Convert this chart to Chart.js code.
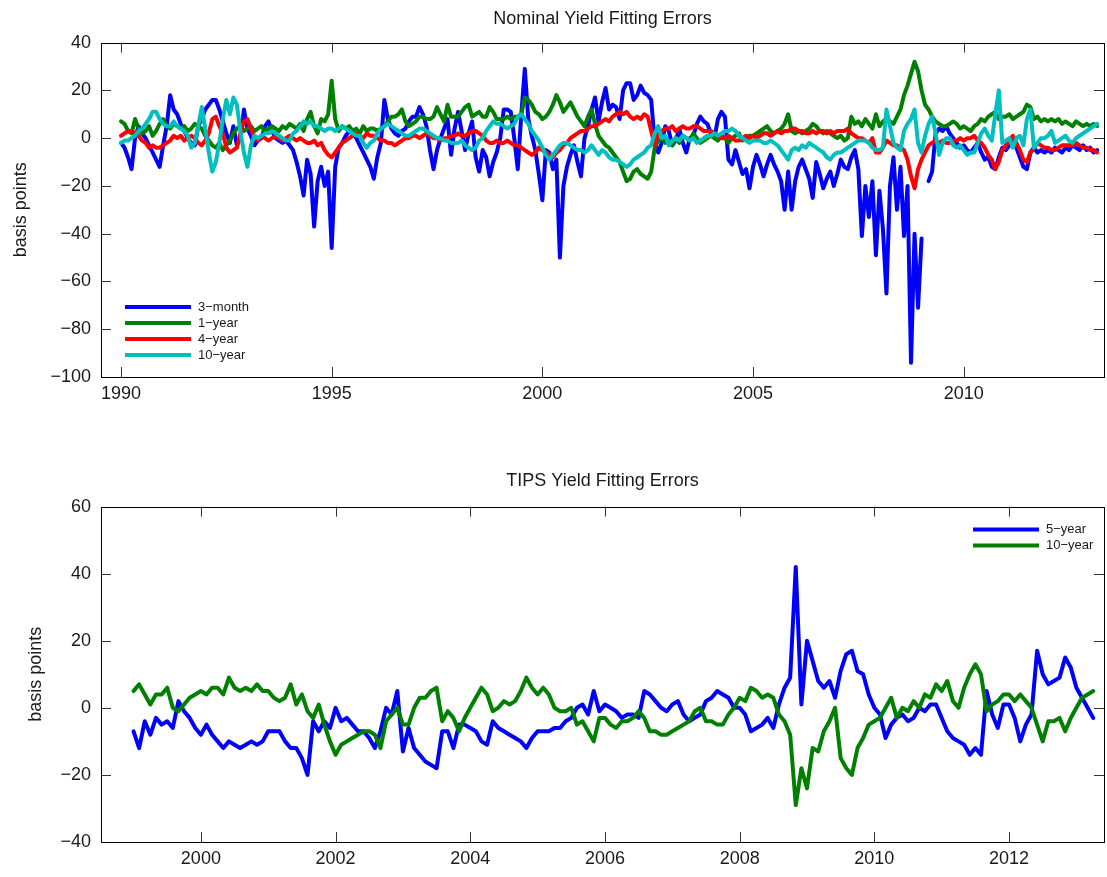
<!DOCTYPE html>
<html>
<head>
<meta charset="utf-8">
<title>Yield Fitting Errors</title>
<script src="https://cdn.jsdelivr.net/npm/chart.js@4.4.1/dist/chart.umd.min.js"></script>
<style>
  body { margin: 0; background: #fff; }
  #wrap { position: relative; width: 1107px; height: 877px; }
  #nominal { position: absolute; left: 0; top: 0; }
  #tips { position: absolute; left: 0; top: 440px; }
</style>
</head>
<body>
<div id="wrap">
  <canvas id="nominal" width="1107" height="430"></canvas>
  <canvas id="tips" width="1107" height="437"></canvas>
</div>
<script>
// monthly observations, first one at the start year
nominal_start = 1990
tips_start = 1999

nominal_year_ticks = [1990, 1995, 2000, 2005, 2010]
nominal_bp_ticks = [-100, -80, -60, -40, -20, 0, 20, 40]
tips_year_ticks = [2000, 2002, 2004, 2006, 2008, 2010, 2012]
tips_bp_ticks = [-40, -20, 0, 20, 40, 60]

nominal_3month = [
  -2, -4, -8, -13, 0, 5, 2, 0, -3, -6, -9, -12,
  -3, 5, 18, 12, 10, 6, 3, 0, -2, -3, 5, 8,
  12, 14, 16, 16, 12, 7, 2, -2, 5, -3, 0, 12,
  4, 1, -3, -1, 0, 5, 7, 3, 0, -1, -2, -1,
  -3, -5, -10, -16, -24, -9, -15, -37, -18, -12, -20, -14,
  -46, -12, -4, -2, 1, 3, 2, 0, -3, -6, -9, -12,
  -17, -8, -2, 16, 8, 4, 2, 1, 3, 4, 7, 9,
  9, 13, 10, 5, -5, -13, -5, 0, 4, 8, -7, 4,
  11, 3, -5, 2, 7, -8, -14, -5, -8, -16, -10, -6,
  0, 12, 12, 11, 0, -13, 10, 29, 8, 1, -5, -15,
  -26, -5, -6, -13, -9, -50, -20, -12, -7, -3, -10, -16,
  0, 5, 12, 17, 7, 15, 21, 12, 14, 13, 8, 20,
  23, 23, 16, 18, 22, 19, 18, 16, -2, -6, -2, 5,
  3, -3, -1, 4, -2, -6, 0, 1, 6, 9, 7, 6,
  2, 0, 8, 11, 9, -9, -11, -5, -10, -15, -13, -21,
  -12, -7, -11, -16, -11, -7, -11, -14, -18, -30, -14, -30,
  -18, -12, -9, -13, -17, -25, -10, -15, -21, -17, -14, -20,
  -15, -9, -12, -13, -8, -5, -13, -41, -20, -33, -18, -49,
  -22, -38, -65, -20, -8, -30, -12, -41, -20, -94, -40, -71,
  -42, null, -18, -14, 2, 4, 3, 5, 2, 0, -2, -4,
  -3, -5, -6, -4, -2, -6, -9, -8, -12, -13, -8, -4,
  -5, -3, -1, -4, -8, -12, -13, -6, -4, -6, -5, -6,
  -5, -6, -4, -5, -6, -4, -5, -3, -4, -5, -3, -5,
  -4, -6, -5
]

nominal_1year = [
  7, 6, 3, 2, 8, 4, 2, 3, 5, 1, 3, 6,
  8, 5, 4, 6, 5, 4, 5, 3, 4, 6, 5, 4,
  1, -1, -3, -4, -2, -5, -3, -1, 2, 4, 5, 3,
  4, 5, 3, 4, 5, 3, 4, 5, 4, 3, 5, 4,
  6, 5, 4, 6, 3, 8, 11, 5, 2, 8, 7, 10,
  24, 8, 3, 5, 4, 5, 3, 4, 2, 5, 3, 4,
  4, 3, 4, 5, 7, 9, 9, 10, 12, 7, 5, 6,
  7, 9, 9, 8, 8, 9, 13, 10, 7, 14, 9, 9,
  9, 11, 13, 14, 9, 10, 11, 9, 9, 13, 11, 8,
  8, 8, 9, 8, 9, 9, 10, 17, 16, 14, 11, 10,
  8, 9, 11, 14, 18, 15, 11, 13, 15, 12, 9, 7,
  5, 9, 12, 6, 1, -1, -3, -4, -6, -8, -10, -14,
  -18, -17, -14, -13, -15, -16, -17, -14, -4, -1, 0, -2,
  -1, -3, 0, -2, 1, 0, -1, 2, 0, -2, -1, 0,
  1, 0, -1, 1, 0, -2, 0, 1, 2, -1, 0, 1,
  1, 2, 3, 4, 5, 3, 2, 3, 4, 6, 10, 3,
  2, 3, 2, 3, 4, 6, 5, 3, 2, 3, 2, 1,
  0, 1, -1, 0, 9, 6, 7, 5, 8, 6, 4, 10,
  5, 7, 8, 7, 6, 9, 12, 18, 22, 27, 32, 28,
  20, 14, 12, 9, 7, 6, 5, 5, 6, 7, 6, 4,
  5, 4, 3, 5, 6, 8, 7, 9, 10, 11, 8, 9,
  9, 10, 8, 9, 10, 11, 14, 13, 8, 9, 7, 8,
  7, 8, 7, 8, 6, 7, 6, 5, 7, 6, 5, 6,
  5, 6, 5
]

nominal_4year = [
  1, 2, 3, 3, 2, 1, -1, -2, -4, -3, -4, -4,
  -3, -2, -1, 1, 0, 1, -1, 0, 1, 0, -2, -3,
  -1, 2, 8, 9, 5, 2, -4, -6, -5, -4, 2, 7,
  8, 4, 0, -1, 1, 0, -1, 0, 1, 0, -1, 0,
  1, 0, -1, 0, -1, -2, -2, -1, -3, -2, -5, -7,
  -8, -6, -4, -2, -1, 0, 1, 2, 1, 0, 2, 1,
  1, 0, -1, -1, -2, -2, -3, -2, -1, 0, 0, 1,
  1, 0, 1, 2, 1, 0, 0, -1, 0, 0, 1, 1,
  2, 1, 1, 2, 3, 3, 2, 1, -1, -2, -2, -1,
  -2, -2, -1, -2, -3, -3, -4, -5, -6, -7, -6, -4,
  -5, -6, -7, -8, -6, -5, -3, -2, 0, 1, 2, 3,
  3, 4, 5, 5, 6, 7, 8, 7, 9, 10, 11, 10,
  11, 9, 8, 9, 8, 10, 9, 3, -3, 2, 3, 4,
  4, 5, 3, 4, 5, 4, 4, 5, 5, 4, 3, 3,
  3, 2, 1, 0, 0, 1, 0, -1, -1, 0, 1, 0,
  1, 0, 1, 2, 2, 1, 2, 3, 2, 3, 3, 4,
  4, 3, 3, 2, 2, 3, 2, 3, 3, 2, 3, 2,
  3, 3, 3, 4, 2, 1, 0, 0, -1, -2, 0, -6,
  -6, -4, -1, -2, -3, -3, -4, -5, -9, -16, -21, -13,
  -9, -6, -3, -2, -1, -2, -1, -2, -2, -1, -1, 0,
  -1, 0, 0, 1, -1, -2, -4, -7, -9, -13, -10, -5,
  -3, -1, 1, -2, -5, -9, -10, -6, -4, -2, -3, -4,
  -4, -5, -5, -4, -3, -3, -3, -3, -2, -3, -4, -4,
  -5, -5, -6
]

nominal_10year = [
  -2, -1, -1, 0, 1, 3, 4, 6, 8, 11, 11, 8,
  6, 5, 5, 7, 5, 4, 3, 1, -4, -2, 5, 13,
  4, -6, -14, -10, -2, 8, 16, 10, 17, 14, 3, -6,
  -12, -3, 1, 0, 1, 2, 2, 3, 2, 1, 0, -1,
  -1, 2, 3, 5, 7, 6, 7, 5, 5, 4, 3, 4,
  4, 3, 4, 5, 4, 3, 2, 1, 1, -2, -4, -2,
  -1, 2, 4, 5, 6, 5, 4, 3, 2, 1, 1, 2,
  3, 4, 4, 3, 2, 1, 0, 0, -1, -1, -2, -2,
  -2, -1, -3, -4, -5, -4, -1, 0, 3, 5, 7, 6,
  6, 5, 4, 5, 6, 9, 10, 8, 6, 3, 1, -1,
  -4, -7, -9, -7, -5, -3, -2, -2, -3, -4, -5, -5,
  -6, -5, -3, -5, -7, -5, -6, -8, -9, -9, -10, -11,
  -12, -11, -9, -8, -7, -6, -4, -3, 2, 5, 0, 1,
  -3, -1, 0, -1, 1, 0, -1, 0, -2, -1, 0, 1,
  1, 2, 1, 2, 3, 3, 4, 3, 1, 0, -1, -2,
  -1, -1, -1, -2, -2, -1, -2, -3, -5, -7, -9, -5,
  -4, -5, -3, -4, -2, -3, -4, -5, -6, -8, -9, -7,
  -6, -6, -5, -4, -3, -2, -1, -1, -1, -2, -4, -5,
  -5, -4, 12, 5, -2, -4, -5, 3, 6, 8, 12, -2,
  -6, 1, 6, 9, 2, -7, -2, 0, 0, -3, -4, -3,
  -5, -7, -6, -6, -2, 2, 4, 1, -1, 10, 20, -2,
  -1, 0, -4, 0, 1, -3, 8, 12, -4, -2, 0, 0,
  1, 3, -2, -1, 0, 1, -1, -2, 0, 1, 2, 3,
  4, 5, 6
]

tips_5year = [
  -7, -12, -4, -8, -3, -5, -4, -6, 2, -1, -3, -6,
  -8, -5, -8, -10, -12, -10, -11, -12, -11, -10, -11, -10,
  -7, -7, -7, -10, -12, -12, -15, -20, -4, -7, -4, -6,
  0, -4, -3, -5, -7, -7, -9, -12, -7, 0, -2, 5,
  -13, -6, -12, -14, -16, -17, -18, -7, -7, -12, -5, -5,
  -6, -7, -10, -11, -4, -6, -7, -8, -9, -10, -12, -9,
  -7, -7, -7, -6, -6, -4, -3, 0, 1, -2, 5, -1,
  1, 0, -1, -3, -2, -2, -3, 5, 4, 2, 0, -1,
  1, 2, -2, -4, -3, -2, 2, 3, 5, 4, 3, 0,
  0, -2, -7, -6, -5, -3, -6, 1, 6, 9, 42, 1,
  20, 14, 8, 6, 8, 3, 11, 16, 17, 11, 10, 4,
  0, -2, -9, -5, -3, -2, -4, -3, 0, -1, 1, 1,
  -3, -7, -9, -10, -11, -14, -12, -14, 5, -2, -6, 1,
  1, -3, -10, -5, -2, 17, 10, 7, 8, 9, 15, 12,
  6, 3, 0, -3
]

tips_10year = [
  5, 7, 4, 1, 4, 4, 6, 0, -1, 1, 3, 4,
  5, 4, 6, 6, 4, 9, 6, 5, 6, 5, 7, 5,
  5, 3, 2, 3, 7, 1, 4, -1, -3, 1, -5, -10,
  -14, -11, -10, -9, -8, -7, -7, -8, -12, -4, -2, 0,
  -5, -5, 0, 3, 3, 5, 6, -4, -1, -3, -7, -3,
  0, 3, 6, 4, -1, 0, 2, 1, 2, 5, 9, 6,
  4, 6, 4, 0, -1, -1, 0, -5, -4, -7, -10, -3,
  -3, -5, -6, -4, -4, -3, -1, -3, -7, -7, -8, -8,
  -7, -6, -5, -4, -1, 0, -4, -4, -5, -5, -2, 0,
  3, 2, 6, 5, 3, 4, 3, -2, -4, -8, -29, -18,
  -24, -12, -13, -7, -4, 0, -15, -18, -20, -12, -9, -5,
  -4, -3, 0, 3, -3, 0, -1, 2, 0, 4, 3, 7,
  5, 8, 2, 0, 6, 10, 13, 10, -1, 1, 2, 4,
  4, 2, 4, 2, 0, -5, -10, -4, -4, -3, -7, -3,
  0, 3, 4, 5
]

Chart.defaults.font.family = '"Liberation Sans", Arial, Helvetica, sans-serif'
Chart.defaults.color = '#1a1a1a'

function monthly(start, values) {
    return values.map((v, i) => ({ x: start + i / 12, y: v }))
}

function minus(v) {
    return String(v).replace('-', '\u2212')
}

// box round the plot, inward ticks on all four sides, legend inside
const matlab_box = {
    id: 'matlabBox',
    afterDatasetsDraw(chart, args, opts) {
        const ctx = chart.ctx
        const a = chart.chartArea
        const xs = chart.scales.x
        const ys = chart.scales.y
        ctx.save()
        ctx.lineWidth = 1
        ctx.strokeStyle = '#333'
        ctx.beginPath()
        for (const t of xs.ticks) {
            const px = Math.round(xs.getPixelForValue(t.value)) + 0.5
            ctx.moveTo(px, a.bottom); ctx.lineTo(px, a.bottom - 10)
            ctx.moveTo(px, a.top); ctx.lineTo(px, a.top + 10)
        }
        for (const t of ys.ticks) {
            const py = Math.round(ys.getPixelForValue(t.value)) + 0.5
            ctx.moveTo(a.left, py); ctx.lineTo(a.left + 10, py)
            ctx.moveTo(a.right, py); ctx.lineTo(a.right - 10, py)
        }
        ctx.stroke()
        ctx.strokeStyle = '#000'
        ctx.strokeRect(Math.round(a.left) + 0.5, Math.round(a.top) + 0.5,
                       Math.round(a.width), Math.round(a.height))

        const upper = opts.corner === 'upper-right'
        const lx = upper ? a.right - 131 : a.left + 24
        const ly = upper ? a.top + 23 : a.bottom - 70
        ctx.font = '13px "Liberation Sans", Arial, sans-serif'
        ctx.textBaseline = 'middle'
        ctx.lineCap = 'butt'
        chart.data.datasets.forEach((ds, i) => {
            const y = ly + i * 16
            ctx.strokeStyle = ds.borderColor
            ctx.lineWidth = 4
            ctx.beginPath()
            ctx.moveTo(lx, y)
            ctx.lineTo(lx + 66, y)
            ctx.stroke()
            ctx.fillStyle = '#1a1a1a'
            ctx.fillText(ds.label, lx + 73, y)
        })
        ctx.restore()
    }
}

function panel(id, p) {
    return new Chart(document.getElementById(id), {
        type: 'line',
        data: {
            datasets: p.series.map((s, i) => ({
                label: s.label,
                data: monthly(p.start, s.values),
                borderColor: s.color,
                backgroundColor: s.color,
                order: p.series.length - i
            }))
        },
        options: {
            responsive: false,
            animation: false,
            events: [],
            spanGaps: false,
            layout: { padding: { left: 0, right: 3, top: 0, bottom: 0 } },
            elements: {
                point: { radius: 0 },
                line: { borderWidth: 4, tension: 0, borderJoinStyle: 'round', borderCapStyle: 'round' }
            },
            plugins: {
                legend: { display: false },
                tooltip: { enabled: false },
                title: {
                    display: true,
                    text: p.title,
                    fullSize: false,
                    color: '#1a1a1a',
                    font: { size: 18, weight: 'normal' },
                    padding: p.titlePad
                },
                matlabBox: { corner: p.corner }
            },
            scales: {
                x: {
                    type: 'linear',
                    min: p.xMin,
                    max: p.xMax,
                    grid: { display: false, drawTicks: false },
                    border: { display: false },
                    afterBuildTicks: s => { s.ticks = p.xTicks.map(v => ({ value: v })) },
                    afterFit: s => { s.height = p.xAxisHeight },
                    ticks: {
                        font: { size: 18 },
                        padding: 6,
                        maxRotation: 0,
                        autoSkip: false,
                        callback: v => String(v)
                    }
                },
                y: {
                    type: 'linear',
                    min: p.yTicks[0],
                    max: p.yTicks[p.yTicks.length - 1],
                    grid: { display: false, drawTicks: false },
                    border: { display: false },
                    afterBuildTicks: s => { s.ticks = p.yTicks.map(v => ({ value: v })) },
                    afterFit: s => { s.width = 101 },
                    ticks: {
                        font: { size: 18 },
                        padding: 10,
                        autoSkip: false,
                        callback: v => minus(v)
                    },
                    title: {
                        display: true,
                        text: 'basis points',
                        font: { size: 18 },
                        padding: { top: p.yTitlePad, bottom: 0 }
                    }
                }
            }
        },
        plugins: [matlab_box]
    })
}

panel('nominal', {
    title: 'Nominal Yield Fitting Errors',
    start: nominal_start,
    series: [
        { label: '3\u2212month', color: '#0000ff', values: nominal_3month },
        { label: '1\u2212year', color: '#008000', values: nominal_1year },
        { label: '4\u2212year', color: '#ff0000', values: nominal_4year },
        { label: '10\u2212year', color: '#00bfbf', values: nominal_10year }
    ],
    xMin: 1989.525, xMax: 2013.33,
    xTicks: nominal_year_ticks,
    yTicks: nominal_bp_ticks,
    titlePad: { top: 8, bottom: 13 },
    xAxisHeight: 53,
    yTitlePad: 10,
    corner: 'lower-left'
})

panel('tips', {
    title: 'TIPS Yield Fitting Errors',
    start: tips_start,
    series: [
        { label: '5\u2212year', color: '#0000ff', values: tips_5year },
        { label: '10\u2212year', color: '#008000', values: tips_10year }
    ],
    xMin: 1998.517, xMax: 2013.41,
    xTicks: tips_year_ticks,
    yTicks: tips_bp_ticks,
    titlePad: { top: 30, bottom: 15 },
    xAxisHeight: 35,
    yTitlePad: 25,
    corner: 'upper-right'
})
</script>
</body>
</html>
